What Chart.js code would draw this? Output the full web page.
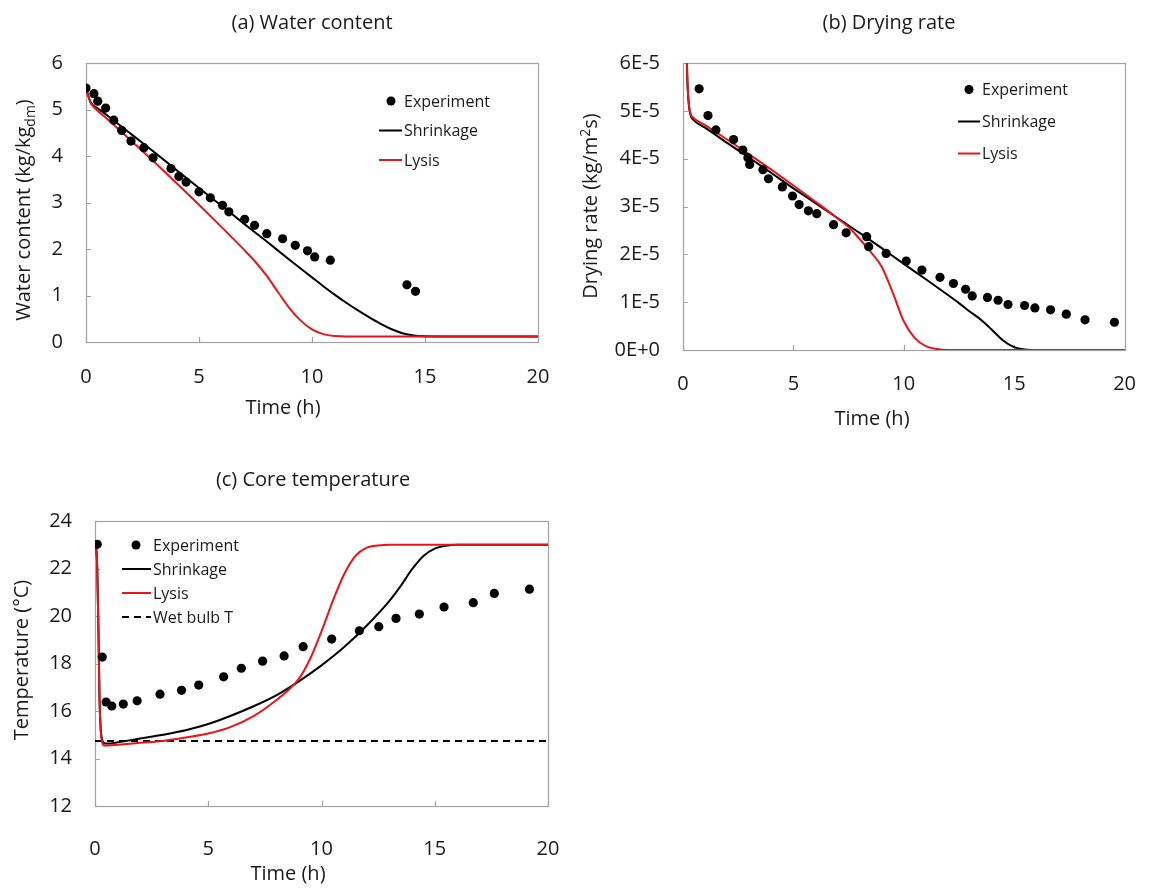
<!DOCTYPE html>
<html><head><meta charset="utf-8">
<script src="https://cdn.jsdelivr.net/npm/chart.js@4/dist/chart.umd.min.js"></script>
<style>
html,body{margin:0;padding:0;background:#fff;}
#wrap{position:relative;width:1150px;height:891px;overflow:hidden;}
canvas{position:absolute;left:0;top:0;}
</style></head><body>
<div id="wrap">
<canvas id="ca" width="1150" height="891" style="width:1150px;height:891px"></canvas>
<canvas id="cb" width="1150" height="891" style="width:1150px;height:891px"></canvas>
<canvas id="cc" width="1150" height="891" style="width:1150px;height:891px"></canvas>
</div>
<script>
// ---------- Panel (a) Water content ----------
const aExpT = [0,0.35,0.52,0.87,1.23,1.58,1.99,2.56,2.97,3.76,4.11,4.43,5.0,5.50,6.04,6.32,7.02,7.46,8.0,8.70,9.26,9.80,10.12,10.81,14.2,14.58];
const aExpW = [5.46,5.34,5.18,5.03,4.77,4.55,4.32,4.18,3.96,3.73,3.56,3.44,3.23,3.10,2.94,2.80,2.64,2.51,2.33,2.22,2.08,1.96,1.83,1.76,1.23,1.09];
const aShrT = [0,0.1,0.2,0.3,0.5,1,2,3,4,5,6,7,8,9,10,10.5,11,11.5,12,12.5,13,13.5,14,14.5,15,16,20];
const aShrW = [5.45,5.3,5.16,5.1,5.03,4.85,4.47,4.09,3.70,3.31,2.93,2.54,2.16,1.77,1.39,1.2,1.02,0.85,0.69,0.54,0.4,0.28,0.19,0.14,0.125,0.12,0.12];
const aLysT = [0,0.1,0.2,0.3,0.5,1,2,3,4,5,6,7,7.5,8,8.5,9,9.5,10,10.5,11,11.5,20];
const aLysW = [5.45,5.28,5.15,5.08,4.98,4.77,4.33,3.88,3.42,2.95,2.47,1.98,1.72,1.42,1.07,0.73,0.46,0.27,0.17,0.13,0.12,0.12];
const aYTicks = [0,1,2,3,4,5,6];

// ---------- Panel (b) Drying rate ----------
const bExpT = [0.73,1.13,1.49,2.29,2.71,2.94,3.02,3.62,3.87,4.50,4.96,5.26,5.68,6.06,6.82,7.39,8.32,8.41,9.20,10.11,10.82,11.64,12.25,12.80,13.10,13.79,14.27,14.72,15.47,15.94,16.65,17.36,18.21,19.54];
const bExpR = [5.46e-5,4.90e-5,4.60e-5,4.40e-5,4.18e-5,4.02e-5,3.88e-5,3.77e-5,3.58e-5,3.41e-5,3.22e-5,3.04e-5,2.91e-5,2.85e-5,2.62e-5,2.45e-5,2.37e-5,2.16e-5,2.02e-5,1.86e-5,1.67e-5,1.52e-5,1.39e-5,1.27e-5,1.13e-5,1.10e-5,1.04e-5,0.95e-5,0.93e-5,0.88e-5,0.84e-5,0.75e-5,0.63e-5,0.58e-5];
const bShrT = [0.15,0.2,0.27,0.35,0.45,1,2,3,4,5,6,7,7.5,8,9,10,11,12,12.5,13,13.5,14,14.5,15,15.5,16,20];
const bShrR = [6.5e-5,5.6e-5,5.1e-5,4.9e-5,4.82e-5,4.65e-5,4.33e-5,4.02e-5,3.70e-5,3.38e-5,3.07e-5,2.76e-5,2.6e-5,2.45e-5,2.13e-5,1.80e-5,1.48e-5,1.15e-5,0.98e-5,0.80e-5,0.63e-5,0.42e-5,0.2e-5,0.06e-5,0.01e-5,0,0];
const bLysT = [0.15,0.2,0.27,0.35,0.45,1,2,3,4,5,6,6.5,7,7.5,8,8.5,9,9.5,10,10.5,11,11.5,12,20];
const bLysR = [6.5e-5,5.6e-5,5.12e-5,4.93e-5,4.86e-5,4.70e-5,4.40e-5,4.09e-5,3.77e-5,3.44e-5,3.10e-5,2.93e-5,2.75e-5,2.57e-5,2.32e-5,2.05e-5,1.74e-5,1.20e-5,0.60e-5,0.25e-5,0.08e-5,0.02e-5,0,0];
const bYTickLabels = ['0E+0','1E-5','2E-5','3E-5','4E-5','5E-5','6E-5'];

// ---------- Panel (c) Core temperature ----------
const cExpT = [0.1,0.32,0.49,0.74,1.25,1.86,2.87,3.82,4.58,5.68,6.46,7.40,8.35,9.19,10.45,11.67,12.53,13.29,14.32,15.41,16.70,17.63,19.18];
const cExpV = [23.02,18.27,16.38,16.21,16.29,16.43,16.71,16.87,17.09,17.44,17.80,18.10,18.32,18.71,19.03,19.38,19.55,19.90,20.08,20.38,20.56,20.95,21.13];
const cShrT = [0.05,0.1,0.15,0.2,0.25,0.3,0.4,0.5,1,2,3,4,5,6,7,8,9,10,11,12,13,13.5,14,14.5,15,15.5,16,20];
const cShrV = [23.0,22.0,19.5,16.5,15.3,14.85,14.65,14.63,14.68,14.84,15.0,15.19,15.45,15.8,16.2,16.66,17.25,17.92,18.69,19.6,20.64,21.27,21.97,22.53,22.84,22.96,23.0,23.0];
const cLysT = [0.05,0.1,0.15,0.2,0.25,0.3,0.4,0.6,1,2,3,4,5,6,7,8,8.5,9,9.5,10,10.5,11,11.5,12,12.5,13,20];
const cLysV = [23.0,22.0,19.5,16.5,15.2,14.75,14.55,14.55,14.58,14.66,14.74,14.88,15.05,15.33,15.78,16.45,16.85,17.35,18.2,19.35,20.64,21.76,22.53,22.88,22.97,23.0,23.0];
const cWetT = [0,20];
const cWetV = [14.74,14.74];

const xTicks = [0,5,10,15,20];

const FONT = '"Open Sans","Noto Sans",sans-serif';
const TXT = '#1a1a1a';
const RED = '#e8141a';

function pts(xs, ys){ return xs.map((x,i)=>({x:x, y:ys[i]})); }

function drawPieces(ctx, pieces, cx, cy, rot, size){
  ctx.save();
  ctx.translate(cx, cy);
  ctx.rotate(rot);
  let total = 0;
  const ms = pieces.map(p=>{
    const fs = (p.sub||p.sup) ? size*0.7 : size;
    ctx.font = fs + 'px ' + FONT;
    const w = ctx.measureText(p.t).width;
    total += w;
    return {p, fs, w};
  });
  let x = -total/2;
  ctx.textAlign = 'left';
  ctx.textBaseline = 'alphabetic';
  ctx.fillStyle = TXT;
  const base = size*0.36;
  ms.forEach(m=>{
    ctx.font = m.fs + 'px ' + FONT;
    let dy = base;
    if (m.p.sub) dy += size*0.22;
    if (m.p.sup) dy -= size*0.38;
    ctx.fillText(m.p.t, x, dy);
    x += m.w;
  });
  ctx.restore();
}

const panelPlugin = {
  id: 'panel',
  beforeDatasetsDraw(chart, args, o){
    const ctx = chart.ctx, a = chart.chartArea;
    const xs = chart.scales.x, ys = chart.scales.y;
    ctx.save();
    ctx.strokeStyle = '#a3a3a3';
    ctx.lineWidth = 1.2;
    ctx.strokeRect(Math.round(a.left)+0.5, Math.round(a.top)+0.5, Math.round(a.right-a.left), Math.round(a.bottom-a.top));
    ctx.beginPath();
    xs.ticks.forEach(t=>{
      const p = Math.round(xs.getPixelForValue(t.value))+0.5;
      ctx.moveTo(p, a.bottom); ctx.lineTo(p, a.bottom-5);
    });
    ys.ticks.forEach(t=>{
      const p = Math.round(ys.getPixelForValue(t.value))+0.5;
      ctx.moveTo(a.left, p); ctx.lineTo(a.left+5, p);
    });
    ctx.stroke();
    ctx.restore();
  },
  afterDraw(chart, args, o){
    const ctx = chart.ctx;
    ctx.save();
    drawPieces(ctx, [{t:o.title.text}], o.title.x, o.title.y, 0, o.title.size);
    drawPieces(ctx, [{t:o.xTitle.text}], o.xTitle.x, o.xTitle.y, 0, o.axisSize);
    drawPieces(ctx, o.yTitle.pieces, o.yTitle.x, o.yTitle.y, -Math.PI/2, o.axisSize);
    const L = o.legend;
    L.items.forEach((it, i)=>{
      const y = L.y0 + i*L.dy;
      ctx.save();
      if (it.type === 'dot'){
        ctx.fillStyle = it.color;
        ctx.beginPath(); ctx.arc(L.mx, y, 4.5, 0, Math.PI*2); ctx.fill();
      } else {
        ctx.strokeStyle = it.color; ctx.lineWidth = 2;
        if (it.type === 'dash') ctx.setLineDash([7,5]);
        ctx.beginPath(); ctx.moveTo(L.lx0, y); ctx.lineTo(L.lx1, y); ctx.stroke();
      }
      ctx.restore();
      ctx.fillStyle = TXT;
      ctx.font = L.size + 'px ' + FONT;
      ctx.textAlign = 'left'; ctx.textBaseline = 'middle';
      ctx.fillText(it.label, L.tx, y + 1);
    });
    ctx.restore();
  }
};

function makeChart(id, cfg){
  const x = {
    type:'linear', min:0, max:20,
    afterBuildTicks: s => { s.ticks = xTicks.map(v=>({value:v})); },
    grid:{display:false}, border:{display:false},
    ticks:{ color:TXT, font:{family:FONT, size:20}, padding:cfg.xPad, maxRotation:0, autoSkip:false },
    afterFit: s => { s.height = 60; }
  };
  const y = {
    type:'linear', min:cfg.yMin, max:cfg.yMax,
    afterBuildTicks: s => { s.ticks = cfg.yTicks.map(v=>({value:v})); },
    grid:{display:false}, border:{display:false},
    ticks:{ color:TXT, font:{family:FONT, size:20}, padding:15, autoSkip:false, callback: cfg.yCb },
    afterFit: s => { s.width = cfg.yWidth; }
  };
  return new Chart(document.getElementById(id), {
    type:'scatter',
    data:{ datasets: cfg.datasets },
    options:{
      responsive:false, animation:false, events:[],
      layout:{ padding: cfg.padding },
      scales:{ x, y },
      plugins:{ legend:{display:false}, tooltip:{enabled:false}, panel: cfg.panel }
    },
    plugins:[panelPlugin]
  });
}

function lineDs(label, data, color, dash){
  return { label, data, showLine:true, borderColor:color, borderWidth:2, pointRadius:0,
    cubicInterpolationMode:'monotone', borderDash: dash||[], fill:false };
}
function dotDs(label, data){
  return { label, data, showLine:false, pointRadius:4.6, pointBackgroundColor:'#000', pointBorderWidth:0, backgroundColor:'#000' };
}

// Panel (a): plot area 86..538 x 63..342
makeChart('ca', {
  yMin:0, yMax:6, yTicks:aYTicks, yWidth:86, xPad:15,
  padding:{left:0, top:63, right:612, bottom:489},
  datasets:[
    dotDs('Experiment', pts(aExpT, aExpW)),
    lineDs('Lysis', pts(aLysT, aLysW), RED),
    lineDs('Shrinkage', pts(aShrT, aShrW), '#000')
  ],
  panel:{
    title:{text:'(a) Water content', x:312, y:22, size:20},
    axisSize:20,
    xTitle:{text:'Time (h)', x:283, y:407},
    yTitle:{pieces:[{t:'Water content (kg/kg'},{t:'dm',sub:true},{t:')'}], x:23, y:210},
    legend:{mx:391, lx0:379, lx1:402, tx:404, y0:101, dy:29.5, size:16,
      items:[{label:'Experiment',type:'dot',color:'#000'},{label:'Shrinkage',type:'line',color:'#000'},{label:'Lysis',type:'line',color:RED}]}
  }
});

// Panel (b): plot area 683..1127 x 63..350
makeChart('cb', {
  yMin:0, yMax:6e-5, yTicks:[0,1e-5,2e-5,3e-5,4e-5,5e-5,6e-5], yWidth:83, xPad:14,
  yCb: v => bYTickLabels[Math.round(v/1e-5)],
  padding:{left:600, top:63, right:23, bottom:481},
  datasets:[
    dotDs('Experiment', pts(bExpT, bExpR)),
    lineDs('Lysis', pts(bLysT, bLysR), RED),
    lineDs('Shrinkage', pts(bShrT, bShrR), '#000')
  ],
  panel:{
    title:{text:'(b) Drying rate', x:889, y:22, size:20},
    axisSize:20,
    xTitle:{text:'Time (h)', x:872, y:418},
    yTitle:{pieces:[{t:'Drying rate (kg/m'},{t:'2',sup:true},{t:'s)'}], x:590, y:206},
    legend:{mx:969, lx0:958, lx1:980, tx:982, y0:89.5, dy:32, size:16,
      items:[{label:'Experiment',type:'dot',color:'#000'},{label:'Shrinkage',type:'line',color:'#000'},{label:'Lysis',type:'line',color:RED}]}
  }
});

// Panel (c): plot area 95..548 x 521..806
makeChart('cc', {
  yMin:12, yMax:24, yTicks:[12,14,16,18,20,22,24], yWidth:95, xPad:23,
  padding:{left:0, top:521, right:602, bottom:25},
  datasets:[
    dotDs('Experiment', pts(cExpT, cExpV)),
    lineDs('Lysis', pts(cLysT, cLysV), RED),
    lineDs('Shrinkage', pts(cShrT, cShrV), '#000'),
    lineDs('Wet bulb T', pts(cWetT, cWetV), '#000', [7,5])
  ],
  panel:{
    title:{text:'(c) Core temperature', x:313, y:479, size:20},
    axisSize:20,
    xTitle:{text:'Time (h)', x:288, y:873},
    yTitle:{pieces:[{t:'Temperature (°C)'}], x:21, y:660},
    legend:{mx:136, lx0:122, lx1:151, tx:153, y0:545, dy:24, size:16,
      items:[{label:'Experiment',type:'dot',color:'#000'},{label:'Shrinkage',type:'line',color:'#000'},{label:'Lysis',type:'line',color:RED},{label:'Wet bulb T',type:'dash',color:'#000'}]}
  }
});
</script>
</body></html>
